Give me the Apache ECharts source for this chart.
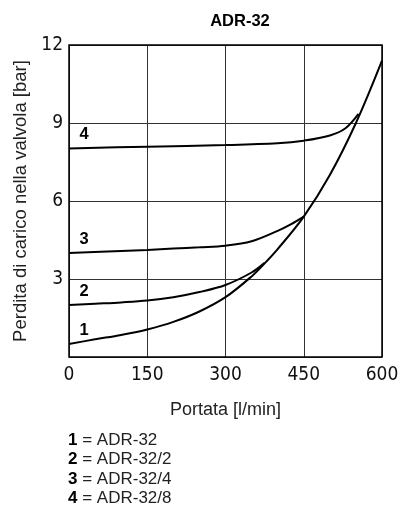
<!DOCTYPE html>
<html><head><meta charset="utf-8">
<script src="https://cdn.jsdelivr.net/npm/echarts@6/dist/echarts.min.js"></script>
<style>html,body{margin:0;padding:0;background:#fff}#c{width:413px;height:518px}</style>
</head><body><div id="c"></div>
<script>
const xTicks = [0, 150, 300, 450, 600];
const yTicks = [0, 3, 6, 9, 12];
const curve1 = [[0,0.5],[50,0.68],[100,0.85],[150,1.06],[200,1.35],[250,1.75],[300,2.3],[350,3.1],[375,3.6],[400,4.15],[450,5.4],[500,7.0],[550,9.0],[600,11.4]];
const curve2 = [[0,2.0],[50,2.05],[100,2.1],[150,2.17],[200,2.3],[250,2.5],[300,2.77],[350,3.25],[375,3.62]];
const curve3 = [[0,4.0],[100,4.08],[150,4.12],[200,4.17],[250,4.22],[300,4.28],[350,4.45],[400,4.85],[425,5.1],[450,5.4]];
const curve4 = [[0,8.02],[150,8.09],[300,8.15],[400,8.22],[450,8.32],[500,8.52],[530,8.8],[555,9.35]];
const curves = [curve1, curve2, curve3, curve4];
const curveNames = ['1','2','3','4'];
const legendLines = ['ADR-32','ADR-32/2','ADR-32/4','ADR-32/8'];

const chart = echarts.init(document.getElementById('c'));
const tickFont = 'DejaVu Sans Condensed, DejaVu Sans';
function mk(data){
  return {type:'line', data:data, smooth:0.35, symbol:'none', lineStyle:{color:'#000', width:2}, silent:true, z:3};
}
chart.setOption({
  animation:false,
  title:{text:'ADR-32', left:235, top:8, textAlign:'center', textStyle:{fontSize:16.5, fontWeight:'bold', color:'#000', fontFamily:'Liberation Sans'}},
  grid:{left:69, right:31, top:45, bottom:161},
  xAxis:{type:'value', min:0, max:600, interval:150,
    name:'Portata [l/min]', nameLocation:'middle', nameGap:44,
    nameTextStyle:{fontSize:18, color:'#222', fontFamily:'Liberation Sans'},
    axisLine:{show:false}, axisTick:{show:false},
    axisLabel:{fontSize:19, color:'#111', margin:9, fontFamily:tickFont},
    splitLine:{show:true, lineStyle:{color:'#333', width:1}}},
  yAxis:{type:'value', min:0, max:12, interval:3,
    name:'Perdita di carico nella valvola [bar]', nameLocation:'middle', nameGap:36,
    nameTextStyle:{fontSize:18.5, color:'#222', fontFamily:'Liberation Sans'},
    axisLine:{show:false}, axisTick:{show:false},
    axisLabel:{fontSize:19, color:'#111', margin:6, fontFamily:tickFont, formatter:v=> v===0?'':String(v)},
    splitLine:{show:true, lineStyle:{color:'#333', width:1}}},
  graphic:[
    {type:'rect', z:10, shape:{x:69, y:45, width:313, height:312}, style:{fill:'none', stroke:'#000', lineWidth:1.5}, silent:true},
    ...legendLines.map((t,i)=>({type:'text', left:68, top:432+i*19.2, style:{text:'{b|'+curveNames[i]+'} = '+t, rich:{b:{fontWeight:'bold', fontSize:17, fill:'#000', fontFamily:'Liberation Sans'}}, fontSize:17, fill:'#222', fontFamily:'Liberation Sans'}}))
  ],
  series:[mk(curve1), mk(curve2), mk(curve3), mk(curve4),
    {type:'scatter', symbolSize:0, silent:true, z:4, itemStyle:{opacity:1},
     data: curves.map((c,i)=>({value:c[0], name:curveNames[i]})),
     label:{show:true, position:'inside', offset:[15,-14], formatter:p=>p.name, fontWeight:'bold', fontSize:16.5, color:'#000', opacity:1, fontFamily:'Liberation Sans'}}
  ]
});
</script></body></html>
